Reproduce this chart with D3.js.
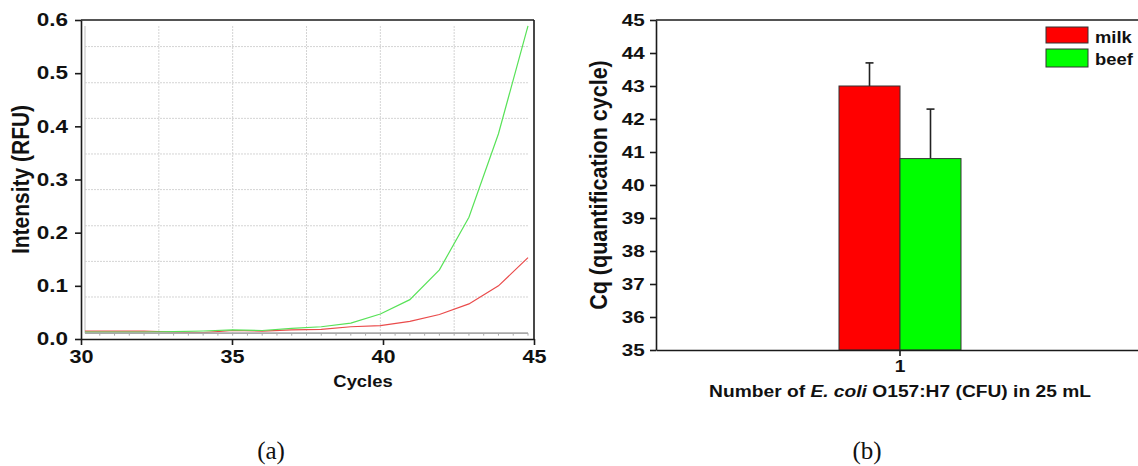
<!DOCTYPE html>
<html>
<head>
<meta charset="utf-8">
<script src="https://cdn.jsdelivr.net/npm/d3@7"></script>
<style>
  body { margin: 0; background: #fff; }
  svg { display: block; }
  text { font-family: "Liberation Sans", Arial, sans-serif; font-weight: bold; fill: #111; }
  .panel-tag { font-family: "Liberation Serif", "DejaVu Serif", serif; font-weight: normal; font-size: 25px; }
</style>
</head>
<body>
<div id="chart"></div>
<script>
/*
 * qPCR amplification curves (a) and Cq bar chart (b)
 */

// panel (a) data
var cycles   = [30, 31, 32, 33, 34, 35, 36, 37, 38, 39, 40, 41, 42, 43, 44, 45];
var beefRFU  = [0.013, 0.013, 0.013, 0.014, 0.015, 0.017, 0.016, 0.020, 0.023, 0.030, 0.047, 0.074, 0.130, 0.229, 0.386, 0.589];
var milkRFU  = [0.015, 0.015, 0.015, 0.013, 0.012, 0.016, 0.015, 0.017, 0.018, 0.023, 0.025, 0.033, 0.046, 0.066, 0.100, 0.153];
var baseRFU  = 0.011;
var cycleTicks = [30, 35, 40, 45];
var rfuTicks   = [0, 0.1, 0.2, 0.3, 0.4, 0.5, 0.6];
var innerGridX = [32.5, 35, 37.5, 40, 42.5];
var innerGridY = [0.079, 0.146, 0.213, 0.281, 0.348, 0.415, 0.482, 0.550];

// panel (b) data
var groups   = ["1"];
var samples  = ["milk", "beef"];
var cqMean   = [43.0, 40.8];
var cqErr    = [0.7, 1.5];
var cqTicks  = [35, 36, 37, 38, 39, 40, 41, 42, 43, 44, 45];

var COLORS = {
  milk_line: "#ea4b4b",
  beef_line: "#58e258",
  milk_bar: "#ff0000",
  beef_bar: "#00ff00",
  axis: "#1a1a1a",
  grid: "#d4d4d4",
  inner: "#a8a8a8"
};

var W = 1138, H = 466;

var svg = d3.select("#chart").append("svg").attr("width", W).attr("height", H);

function styleAxis(g){
  g.select(".domain").attr("stroke", COLORS.axis).attr("stroke-width", 1.6);
  g.selectAll(".tick line").attr("stroke", COLORS.axis).attr("stroke-width", 1.6);
}

/*
 * Panel (a): amplification curves
 */
function drawCurves(){
  var x = d3.scaleLinear().domain([30, 45]).range([81, 534]);
  var y = d3.scaleLinear().domain([0, 0.6]).range([339, 20]);
  // the exported instrument plot sits slightly inside the outer axes
  var xi = d3.scaleLinear().domain([30, 45]).range([85, 528]);
  var innerTop = 26;

  var g = svg.append("g");

  // inner grid
  g.selectAll(".vgrid").data(innerGridX).enter().append("line")
    .attr("x1", function(d){ return xi(d); }).attr("x2", function(d){ return xi(d); })
    .attr("y1", innerTop).attr("y2", y(baseRFU))
    .attr("stroke", COLORS.grid).attr("stroke-width", 1).attr("stroke-dasharray", "2,1");
  g.selectAll(".hgrid").data(innerGridY).enter().append("line")
    .attr("x1", xi(30)).attr("x2", xi(45))
    .attr("y1", function(d){ return y(d); }).attr("y2", function(d){ return y(d); })
    .attr("stroke", COLORS.grid).attr("stroke-width", 1).attr("stroke-dasharray", "2,1");

  // inner frame: left edge and baseline with minor ticks
  g.append("line").attr("x1", xi(30)).attr("x2", xi(30)).attr("y1", innerTop).attr("y2", y(baseRFU))
    .attr("stroke", "#c8c8c8").attr("stroke-width", 1.2);
  g.selectAll(".minor").data(d3.range(30.5, 45.01, 0.5)).enter().append("line")
    .attr("x1", function(d){ return xi(d); }).attr("x2", function(d){ return xi(d); })
    .attr("y1", y(baseRFU)).attr("y2", y(baseRFU) + 2.5)
    .attr("stroke", COLORS.inner).attr("stroke-width", 1);

  // curves
  var line = d3.line()
    .x(function(d, i){ return xi(cycles[i]); })
    .y(function(d){ return y(d); });

  g.append("path").datum(milkRFU).attr("d", line)
    .attr("fill", "none").attr("stroke", COLORS.milk_line).attr("stroke-width", 1.2);
  g.append("path").datum(beefRFU).attr("d", line)
    .attr("fill", "none").attr("stroke", COLORS.beef_line).attr("stroke-width", 1.2);

  g.append("line").attr("x1", xi(30)).attr("x2", xi(45)).attr("y1", y(baseRFU)).attr("y2", y(baseRFU))
    .attr("stroke", COLORS.inner).attr("stroke-width", 1.6);

  // outer axes
  var ax = g.append("g").attr("transform", "translate(0," + y(0) + ")")
    .call(d3.axisBottom(x).tickValues(cycleTicks).tickSize(6).tickSizeOuter(0).tickPadding(5));
  styleAxis(ax);
  ax.selectAll("text").attr("font-size", 18).attr("transform", "scale(1.2,1)").style("fill", "#111");

  var ay = g.append("g").attr("transform", "translate(" + x(30) + ",0)")
    .call(d3.axisLeft(y).tickValues(rfuTicks).tickFormat(d3.format(".1f")).tickSize(6).tickSizeOuter(0).tickPadding(4.4));
  styleAxis(ay);
  ay.selectAll("text").attr("font-size", 18).attr("transform", "scale(1.25,1)").style("fill", "#111");

  // box top and right
  g.append("line").attr("x1", x(30)).attr("x2", x(45)).attr("y1", y(0.6)).attr("y2", y(0.6))
    .attr("stroke", COLORS.axis).attr("stroke-width", 1.6);
  g.append("line").attr("x1", x(45)).attr("x2", x(45)).attr("y1", y(0.6)).attr("y2", y(0))
    .attr("stroke", COLORS.axis).attr("stroke-width", 1.6);

  // titles
  g.append("text").attr("transform", "translate(363,387) scale(1.15,1)")
    .attr("text-anchor", "middle").attr("font-size", 16).text("Cycles");
  g.append("text").attr("transform", "translate(29," + y(0.3) + ") rotate(-90) scale(1,1.15)")
    .attr("text-anchor", "middle").attr("font-size", 21).text("Intensity (RFU)");
}

/*
 * Panel (b): Cq bars with error bars
 */
function drawBars(){
  var x = d3.scaleBand().domain(groups).range([656, 1144]);
  var y = d3.scaleLinear().domain([35, 45]).range([350, 20]);
  var cx = x("1") + x.bandwidth() / 2;
  var xs = d3.scaleBand().domain(samples).range([cx - 61, cx + 61]);

  var g = svg.append("g");

  // top frame line
  g.append("line").attr("x1", x.range()[0]).attr("x2", x.range()[1]).attr("y1", y(45)).attr("y2", y(45))
    .attr("stroke", COLORS.axis).attr("stroke-width", 1.6);

  // error bars (drawn under the bars)
  samples.forEach(function(s, i){
    var ex = xs(s) + xs.bandwidth() / 2;
    g.append("line").attr("x1", ex).attr("x2", ex).attr("y1", y(cqMean[i])).attr("y2", y(cqMean[i] + cqErr[i]))
      .attr("stroke", "#222").attr("stroke-width", 1.6);
    g.append("line").attr("x1", ex - 4).attr("x2", ex + 4).attr("y1", y(cqMean[i] + cqErr[i])).attr("y2", y(cqMean[i] + cqErr[i]))
      .attr("stroke", "#222").attr("stroke-width", 1.6);
  });

  g.selectAll(".bar").data(samples).enter().append("rect")
    .attr("x", function(d){ return xs(d); })
    .attr("y", function(d, i){ return y(cqMean[i]); })
    .attr("width", xs.bandwidth())
    .attr("height", function(d, i){ return y(35) - y(cqMean[i]); })
    .attr("fill", function(d){ return COLORS[d + "_bar"]; })
    .attr("stroke", "#333").attr("stroke-width", 1);

  var ax = g.append("g").attr("transform", "translate(0," + y(35) + ")")
    .call(d3.axisBottom(x).tickSize(6).tickSizeOuter(0).tickPadding(5));
  styleAxis(ax);
  ax.selectAll("text").attr("font-size", 16).attr("transform", "scale(1.2,1)").style("fill", "#111");

  var ay = g.append("g").attr("transform", "translate(656,0)")
    .call(d3.axisLeft(y).tickValues(cqTicks).tickSize(6).tickSizeOuter(0).tickPadding(3));
  styleAxis(ay);
  ay.selectAll("text").attr("font-size", 16.5).attr("transform", "scale(1.25,1)").style("fill", "#111");

  // legend
  var legendY = [27, 49];
  var legendH = [16, 18];
  samples.forEach(function(s, i){
    g.append("rect").attr("x", 1046).attr("y", legendY[i]).attr("width", 42).attr("height", legendH[i])
      .attr("fill", COLORS[s + "_bar"]).attr("stroke", "#333").attr("stroke-width", 1);
    g.append("text").attr("transform", "translate(1095," + (legendY[i] + 16) + ") scale(1.15,1)")
      .attr("font-size", 16).text(s);
  });

  // titles
  var xt = g.append("text").attr("transform", "translate(" + cx + ",397) scale(1.13,1)")
    .attr("text-anchor", "middle").attr("font-size", 17);
  xt.append("tspan").text("Number of ");
  xt.append("tspan").attr("font-style", "italic").text("E. coli");
  xt.append("tspan").text(" O157:H7 (CFU) in 25 mL");

  g.append("text").attr("transform", "translate(607," + y(40) + ") rotate(-90) scale(1,1.15)")
    .attr("text-anchor", "middle").attr("font-size", 21.5).text("Cq (quantification cycle)");
}

drawCurves();
drawBars();

// panel tags
svg.append("text").attr("class", "panel-tag").attr("x", 271).attr("y", 459).attr("text-anchor", "middle").text("(a)");
svg.append("text").attr("class", "panel-tag").attr("x", 867).attr("y", 459).attr("text-anchor", "middle").text("(b)");
</script>
</body>
</html>
